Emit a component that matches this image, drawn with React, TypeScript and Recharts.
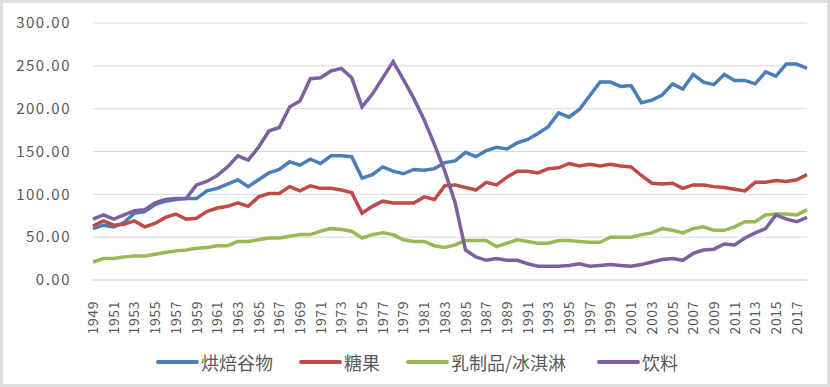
import React from 'react';
import { ComposedChart, Line, XAxis, YAxis, CartesianGrid, Legend } from 'recharts';

const years: string[] = [];
for (let y = 1949; y <= 2018; y++) years.push(String(y));

const bakery = [60, 64, 62, 67, 78, 80, 88, 92, 94, 95, 95, 104, 107, 112, 117, 109, 117, 125,
  129, 138, 134, 141, 136, 145, 145, 144, 119, 123, 132, 127, 124, 129, 128, 130, 137, 139,
  149, 144, 151, 155, 153, 160, 164, 171, 179, 195, 190, 199, 215, 231, 231, 226, 227,
  207, 210, 216, 229, 223, 240, 231, 228, 240, 233, 233, 229, 243, 238, 252, 252, 247];

const candy = [63, 69, 64, 65, 69, 62, 66, 73, 77, 71, 72, 80, 84, 86, 90, 86, 97, 101,
  101, 109, 104, 110, 107, 107, 105, 102, 78, 86, 92, 90, 90, 90, 97, 94, 110, 111,
  108, 105, 114, 111, 120, 127, 127, 125, 130, 131, 136, 133, 135, 133, 135, 133, 132,
  122, 113, 112, 113, 107, 111, 111, 109, 108, 106, 104, 114, 114, 116, 115, 117, 123];

const dairy = [21, 25, 25, 27, 28, 28, 30, 32, 34, 35, 37, 38, 40, 40, 45, 45, 47, 49,
  49, 51, 53, 53, 57, 60, 59, 57, 49, 53, 55, 53, 47, 45, 45, 40, 38, 41,
  46, 46, 46, 39, 43, 47, 45, 43, 43, 46, 46, 45, 44, 44, 50, 50, 50,
  53, 55, 60, 58, 55, 60, 62, 58, 58, 62, 68, 68, 76, 77, 77, 76, 82];

const drinks = [71, 76, 71, 76, 81, 82, 90, 94, 95, 95, 111, 115, 122, 132, 145, 140, 155, 174,
  178, 202, 209, 235, 236, 244, 247, 236, 202, 217, 236, 255, 234, 212, 187, 158, 127, 90,
  35, 27, 23, 25, 23, 23, 19, 16, 16, 16, 17, 19, 16, 17, 18, 17, 16,
  18, 21, 24, 25, 23, 31, 35, 36, 42, 41, 49, 55, 60, 76, 71, 68, 73];

const seriesNames = ['烘焙谷物', '糖果', '乳制品/冰淇淋', '饮料'];
const seriesColors = ['#4a7ebb', '#be4b48', '#98b954', '#7d60a0'];
const yTicks = [0, 50, 100, 150, 200, 250, 300];
const legendLeft = [156, 299, 406, 597];

const data = years.map((year, i) => ({
  year,
  s0: bakery[i],
  s1: candy[i],
  s2: dairy[i],
  s3: drinks[i],
}));

const FONT = '"Noto Sans CJK SC", "Noto Sans", sans-serif';

const XTick = (props: any) => {
  const { x, y, payload } = props;
  return (
    <g transform={`translate(${x},${y})`}>
      <text
        transform="rotate(-90)"
        x={-13}
        y={0}
        dy="0.36em"
        textAnchor="end"
        fontSize={14}
        letterSpacing={0.6}
        fill="#595959"
        fontFamily={FONT}
      >
        {payload.value}
      </text>
    </g>
  );
};

const LegendContent = () => (
  <div
    style={{
      position: 'relative',
      height: 30,
      width: 830,
      fontFamily: FONT,
      fontSize: 18,
      color: '#595959',
      transform: 'translateY(2px)',
    }}
  >
    {seriesNames.map((n, i) => (
      <div
        key={n}
        style={{
          position: 'absolute',
          left: legendLeft[i],
          top: 0,
          height: 30,
          display: 'flex',
          alignItems: 'center',
          whiteSpace: 'nowrap',
        }}
      >
        <span
          style={{
            display: 'inline-block',
            width: 43,
            height: 4,
            borderRadius: 2,
            background: seriesColors[i],
            marginRight: 2,
          }}
        />
        <span>{n}</span>
      </div>
    ))}
  </div>
);

export default function App() {
  return (
    <div
      style={{
        position: 'absolute',
        left: 0,
        top: 0,
        width: 830,
        height: 387,
        background: '#fff',
        boxSizing: 'border-box',
        border: '3px solid #dedede',
        overflow: 'hidden',
      }}
    >
      <div style={{ position: 'absolute', left: -3, top: -3 }}>
        <ComposedChart
          width={830}
          height={387}
          data={data}
          margin={{ top: 23, right: 23, bottom: 12, left: 0 }}
        >
          <CartesianGrid vertical={false} stroke="#d9d9d9" strokeWidth={1} />
          <XAxis
            dataKey="year"
            interval={1}
            tick={<XTick />}
            tickLine={false}
            axisLine={{ stroke: '#d9d9d9' }}
            height={65}
          />
          <YAxis
            domain={[0, 300]}
            ticks={yTicks}
            width={93}
            tickLine={false}
            axisLine={false}
            tickMargin={16}
            tickFormatter={(v: number) => v.toFixed(2)}
            tick={{ fontSize: 15, fill: '#595959', fontFamily: FONT, letterSpacing: 1.5 }}
          />
          <Legend
            verticalAlign="bottom"
            content={<LegendContent />}
            wrapperStyle={{ left: 0, width: 830 }}
          />
          {['s0', 's1', 's2', 's3'].map((k, i) => (
            <Line
              key={k}
              dataKey={k}
              name={seriesNames[i]}
              stroke={seriesColors[i]}
              strokeWidth={3.5}
              dot={false}
              activeDot={false}
              type="linear"
              isAnimationActive={false}
            />
          ))}
        </ComposedChart>
      </div>
    </div>
  );
}
